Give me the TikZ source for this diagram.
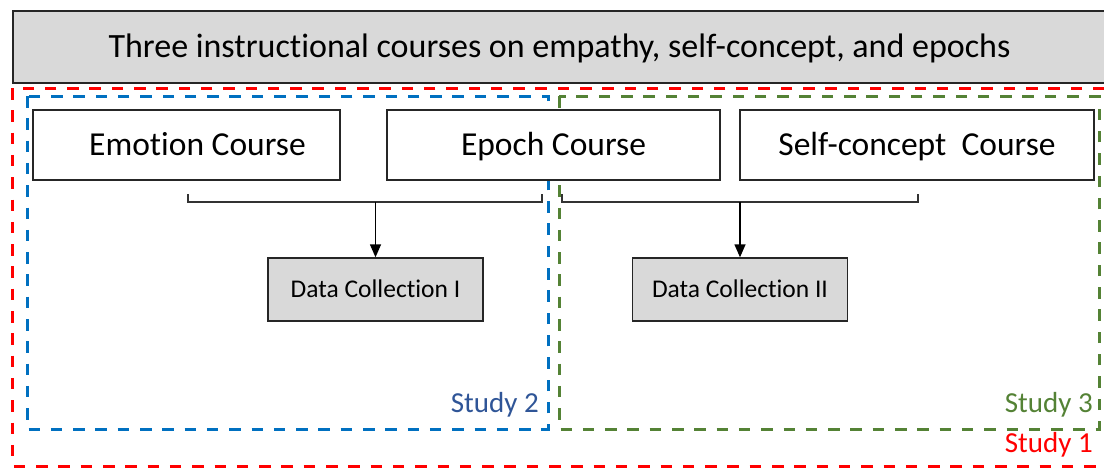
\documentclass[tikz,border=0pt]{standalone}
\usepackage{fontspec}
\setmainfont[Ligatures=NoCommon]{Carlito}
\usetikzlibrary{arrows.meta}
\definecolor{boxgray}{HTML}{D9D9D9}
\definecolor{studyred}{HTML}{FF0000}
\definecolor{studyblue}{HTML}{0070C0}
\definecolor{studygreen}{HTML}{548235}
\definecolor{labelblue}{HTML}{2F5597}
\tikzset{
  course/.style={draw=black!85, line width=1.4pt, fill=white, inner sep=0pt, font=\fontsize{33.5}{40}\selectfont, text height=21.6pt, text depth=0pt},
  datbox/.style={draw=black!85, line width=1.4pt, fill=boxgray, inner sep=0pt, minimum width=215pt, minimum height=63pt, font=\fontsize{25.5}{30}\selectfont, text height=16.4pt, text depth=0pt},
  studyframe/.style={dash pattern=on 11.5pt off 10.8pt, line width=3pt},
  brace/.style={draw=black!80, line width=1.4pt},
  flow/.style={draw=black, line width=1.4pt, -{Triangle[length=13pt,width=11pt]}},
  studylabel/.style={inner sep=0pt, anchor=east, font=\fontsize{29}{34}\selectfont}
}
\begin{document}
\begin{tikzpicture}[x=1pt,y=-1pt]
  \useasboundingbox (0,0) rectangle (1104,467);
  \begin{scope}
    \clip (0,0) rectangle (1104,467);
    % header bar
    \node[draw=black!85, line width=1.4pt, fill=boxgray, inner sep=0pt,
          minimum width=1093pt, minimum height=72pt, text height=21.9pt, text depth=0pt,
          font=\fontsize{34}{40}\selectfont] (title) at (559.5,47)
          {Three instructional courses on empathy, self-concept, and epochs};
    % study frames
    \draw[studyframe, studyred] (12.7,88) rectangle (1106,466);
    \draw[studyframe, studyblue] (27,96) rectangle (548,429);
    \draw[studyframe, studygreen] (559,96) rectangle (1099,429);
  \end{scope}
  % course boxes
  \node[course, minimum width=307pt, minimum height=70pt] (emotion) at (186.5,145) {\hspace*{22pt}Emotion Course};
  \node[course, minimum width=333pt, minimum height=70pt] (epoch) at (553.5,145) {Epoch Course};
  \node[course, minimum width=354pt, minimum height=70pt] (self) at (917,145) {Self-concept\ \ Course};
  % data collection boxes
  \node[datbox] (dc1) at (375.5,289.5) {Data Collection I};
  \node[datbox] (dc2) at (740,289.5) {Data Collection II};
  % brackets gathering the courses
  \coordinate (b1l) at (188,194);
  \coordinate (b1r) at (542,194);
  \coordinate (b1m) at (375.5,202);
  \draw[brace] (b1l) -- (b1l |- b1m) -- (b1r |- b1m) -- (b1r);
  \coordinate (b2l) at (562,194);
  \coordinate (b2r) at (918,194);
  \coordinate (b2m) at (740,202);
  \draw[brace] (b2l) -- (b2l |- b2m) -- (b2r |- b2m) -- (b2r);
  \draw[flow] (b1m) -- (dc1.north);
  \draw[flow] (b2m) -- (dc2.north);
  % study labels
  \node[studylabel, text=labelblue] (s2) at (539,405) {Study 2};
  \node[studylabel, text=studygreen] (s3) at (1093,405) {Study 3};
  \node[studylabel, text=studyred] (s1) at (1093,445) {Study 1};
\end{tikzpicture}
\end{document}
